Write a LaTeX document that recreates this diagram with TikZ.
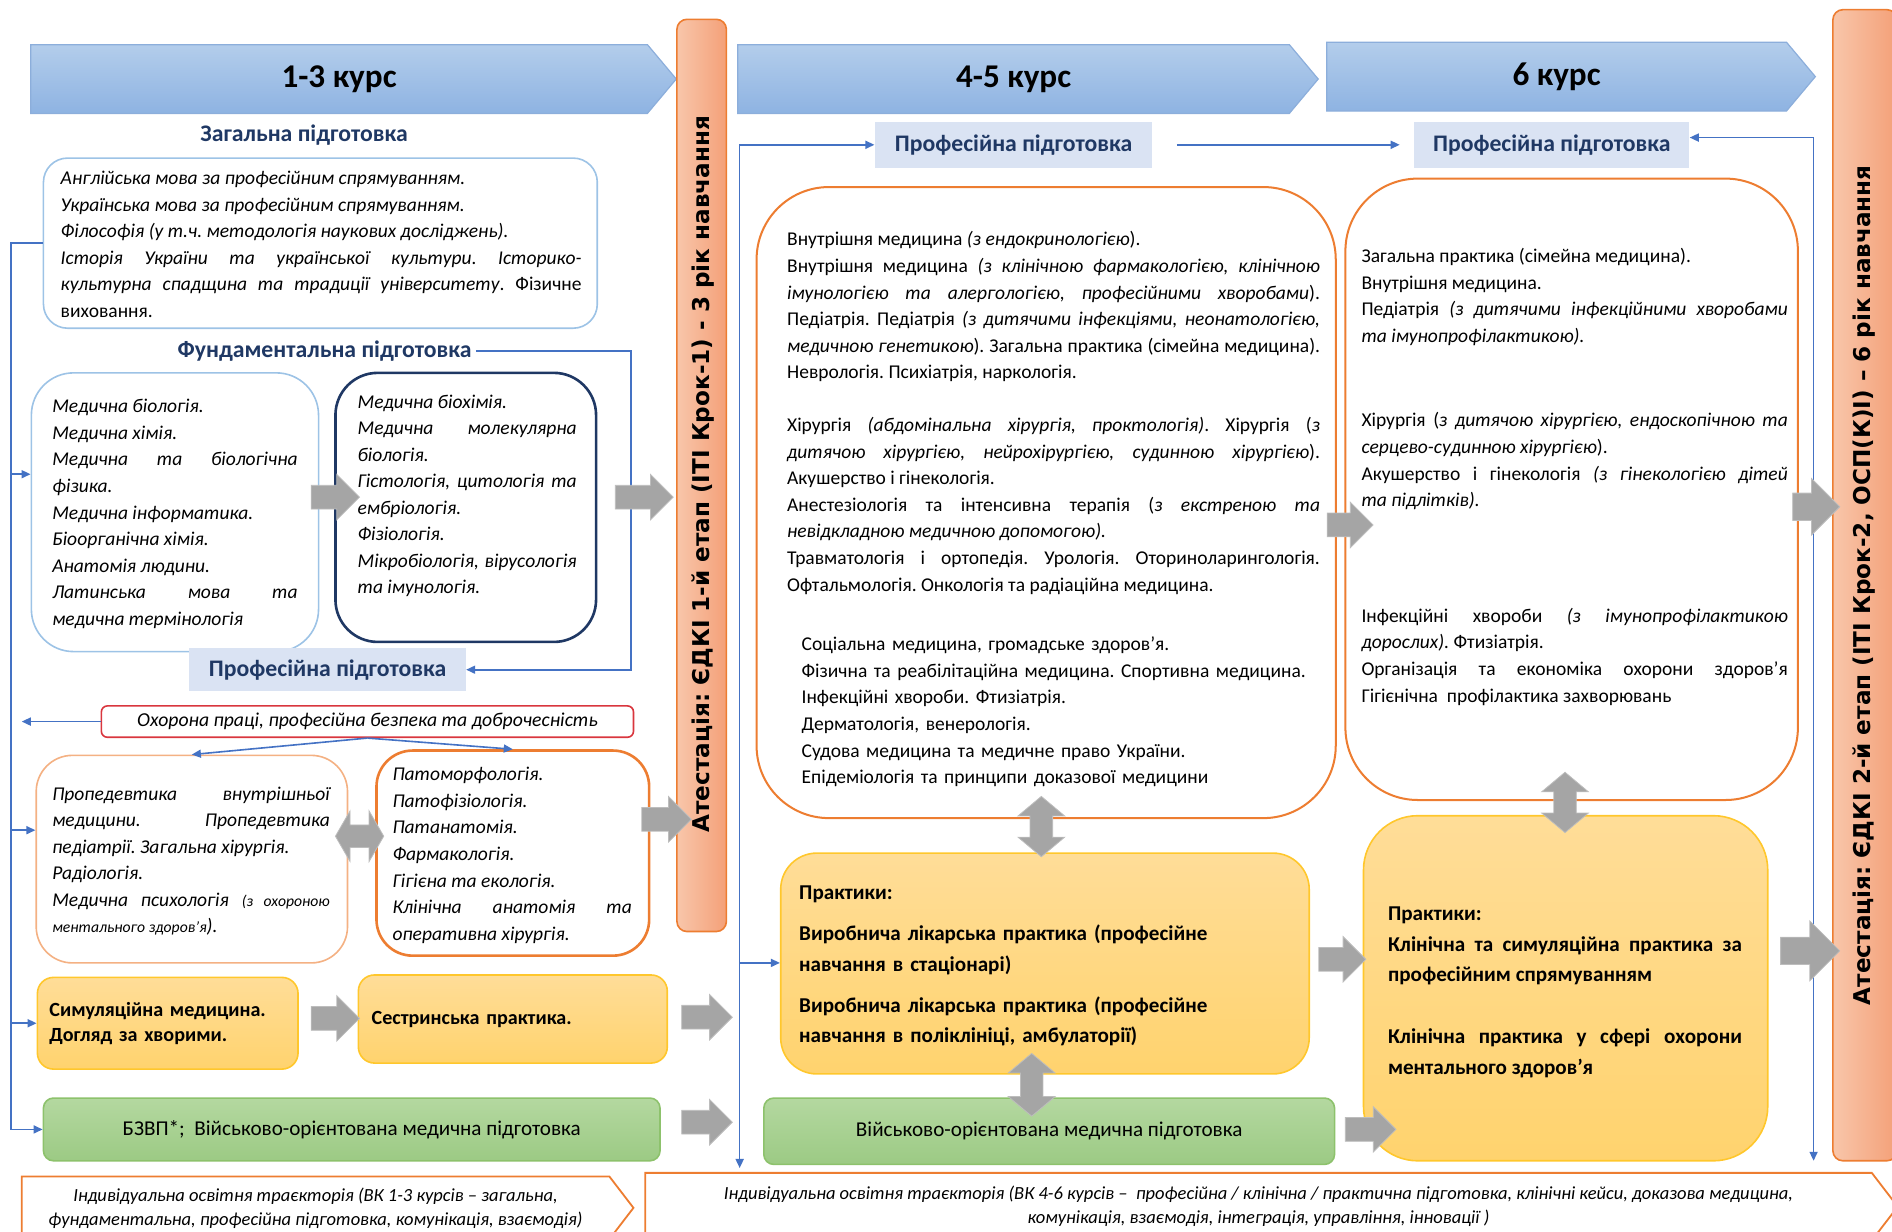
\documentclass[tikz,border=0pt]{standalone}
\usepackage{fontspec}
\setmainfont{Carlito}
\newfontfamily\barfont{DejaVu Sans}
\usetikzlibrary{shapes.arrows,shapes.symbols,arrows.meta}

\definecolor{hdtop}{HTML}{B3CDEB}
\definecolor{hdbot}{HTML}{8EB3E2}
\definecolor{hdline}{HTML}{8CAEDB}
\definecolor{bartop}{HTML}{F8C6AA}
\definecolor{barbot}{HTML}{F4A078}
\definecolor{orng}{HTML}{ED7D31}
\definecolor{lorng}{HTML}{F4B183}
\definecolor{lblue}{HTML}{9DC3E6}
\definecolor{navy}{HTML}{1F3864}
\definecolor{lblfill}{HTML}{DAE3F3}
\definecolor{blu}{HTML}{4472C4}
\definecolor{redln}{HTML}{D9363E}
\definecolor{yeltop}{HTML}{FFDD98}
\definecolor{yelbot}{HTML}{FFD36E}
\definecolor{yelline}{HTML}{FFC72C}
\definecolor{grntop}{HTML}{B4D8A0}
\definecolor{grnbot}{HTML}{9CCA84}
\definecolor{grnline}{HTML}{8DC26C}
\definecolor{gry}{HTML}{A5A5A5}
\definecolor{gryline}{HTML}{BDBDBD}

\setlength{\parindent}{0pt}
\frenchspacing
\hyphenpenalty=10000
\hbadness=10000

\begin{document}
\begin{tikzpicture}[x=0.6pt,y=-0.6pt,
  hdr/.style={signal,signal to=east,signal pointer angle=100,top color=hdtop,bottom color=hdbot,draw=hdline,line width=0.6pt,inner sep=0pt,font=\fontsize{16.5}{20}\selectfont\bfseries},
  bar/.style={rectangle,rounded corners=5pt,left color=bartop,right color=barbot,draw=orng,line width=0.8pt},
  bartext/.style={rotate=90,inner sep=0pt,font=\barfont\bfseries\fontsize{11.5}{13}\selectfont},
  box/.style={rectangle,fill=white,line width=0.8pt},
  hdg/.style={inner sep=2pt,text=navy,font=\fontsize{11.8}{14}\selectfont\bfseries},
  lbl/.style={rectangle,fill=lblfill,inner sep=0pt,text=navy,font=\fontsize{11.8}{14}\selectfont\bfseries},
  txt/.style={inner sep=0pt,anchor=north west,yshift=-2.2pt,align=justify,font=\fontsize{9.7}{13.2}\selectfont},
  itxt/.style={txt,font=\fontsize{9.7}{13.2}\selectfont\itshape},
  yel/.style={rectangle,top color=yeltop,bottom color=yelbot,draw=yelline,line width=0.8pt},
  grn/.style={rectangle,rounded corners=5pt,top color=grntop,bottom color=grnbot,draw=grnline,line width=0.8pt,font=\fontsize{10.5}{13}\selectfont},
  prtext/.style={inner sep=0pt,anchor=north west,yshift=-3pt,font=\fontsize{10.5}{15.3}\selectfont\bfseries},
  indiv/.style={signal,signal to=east,signal pointer angle=105,draw=orng,fill=white,line width=0.9pt,align=center,inner sep=0pt,font=\fontsize{9.2}{12}\selectfont\itshape},
  grar/.style={single arrow,fill=gry,draw=gryline,line width=0.4pt,inner xsep=0pt,inner ysep=5.7pt,single arrow head extend=5.4pt,minimum height=#1},
  dblar/.style={double arrow,fill=gry,draw=gryline,line width=0.4pt,inner xsep=0pt,inner ysep=5.4pt,double arrow head extend=6pt,double arrow tip angle=100,minimum height=#1},
  bline/.style={draw=blu,line width=0.8pt},
  arr/.style={-{Triangle[length=4.5pt,width=4pt]}},
  arrboth/.style={{Triangle[length=4.5pt,width=4pt]}-{Triangle[length=4.5pt,width=4pt]}}
]
\useasboundingbox (0,0) rectangle (1568,1021);
\clip (0,0) rectangle (1568,1021);

% course headers and attestation bars
\node[hdr,minimum width=321pt,minimum height=34.2pt] (c13) at (281,65.5) {1-3 курс};
\node[hdr,minimum width=288.6pt,minimum height=34.2pt] (c45) at (840,65.5) {4-5 курс};
\node[hdr,minimum width=243pt,minimum height=34.2pt] (c6) at (1290,63.5) {6 курс};
\node[bar,minimum width=24.6pt,minimum height=453.6pt] (att1) at (581.5,394) {};
\node[bartext] (att1t) at (583,393) {Атестація: ЄДКІ 1-й етап (ІТІ Крок-1) - 3 рік навчання};
\node[bar,minimum width=31.8pt,minimum height=572.4pt] (att2) at (1545.5,485) {};
\node[bartext] (att2t) at (1545,485) {Атестація: ЄДКІ 2-й етап (ІТІ Крок-2, ОСП(К)І) – 6 рік навчання};

% 1-3 course
\node[hdg] (zagh) at (252,112) {Загальна підготовка};
\node[box,draw=lblue,rounded corners=12pt,minimum width=275.4pt,minimum height=84.6pt] (zag) at (265.5,201.5) {};
\node[txt,text width=259pt] (zagt) at (50,138) {\textit{Англійська мова за професійним спрямуванням.}\par
\textit{Українська мова за професійним спрямуванням.}\par
\textit{Філософія (у т.ч. методологія наукових досліджень).}\par
\textit{Історія України та української культури. Історико-\linebreak культурна спадщина та традиції університету}. Фізичне\linebreak виховання.};
\node[hdg] (fundh) at (269,291) {Фундаментальна підготовка};
\node[box,draw=lblue,rounded corners=21pt,minimum width=142.8pt,minimum height=138.6pt] (fundl) at (145,424.5) {};
\node[itxt,text width=122pt] (fundlt) at (43,327) {Медична біологія.\par Медична хімія.\par Медична та біологічна\linebreak фізика.\par Медична інформатика.\par Біоорганічна хімія.\par Анатомія людини.\par Латинська мова та\linebreak медична термінологія};
\node[box,draw=navy,line width=1.3pt,rounded corners=21pt,minimum width=129.6pt,minimum height=133.8pt] (fundr) at (386,420.5) {};
\node[itxt,text width=109pt] (fundrt) at (296,323) {Медична біохімія.\par Медична молекулярна\linebreak біологія.\par Гістологія, цитологія та\linebreak ембріологія.\par Фізіологія.\par Мікробіологія, вірусологія\linebreak та імунологія.};
\node[lbl,minimum width=137.4pt,minimum height=21.6pt] (prof1) at (271.5,555) {Професійна підготовка};
\node[box,draw=redln,rounded corners=3pt,minimum width=264.6pt,minimum height=15.6pt,inner sep=0pt,font=\fontsize{9.8}{12}\selectfont\itshape] (red) at (304.5,598) {Охорона праці, професійна безпека та доброчесність};
\node[box,draw=lorng,rounded corners=18pt,minimum width=154.8pt,minimum height=103.2pt] (prop) at (159,712) {};
\node[itxt,text width=138pt] (propt) at (43,648) {Пропедевтика внутрішньої\linebreak медицини. Пропедевтика\linebreak педіатрії. Загальна хірургія.\par Радіологія.\par Медична психологія {\fontsize{7.8}{13.2}\selectfont (з охороною\linebreak ментального здоров’я}).};
\node[box,draw=orng,line width=1.3pt,rounded corners=18pt,minimum width=135.6pt,minimum height=102pt] (pato) at (425,707) {};
\node[itxt,text width=119pt] (patot) at (325,632) {Патоморфологія.\par Патофізіологія.\par Патанатомія.\par Фармакологія.\par Гігієна та екологія.\par Клінічна анатомія та\linebreak оперативна хірургія.};
\node[yel,rounded corners=8pt,minimum width=129.6pt,minimum height=45.6pt,text width=117.6pt,align=left,font=\fontsize{10}{12.6}\selectfont\bfseries] (sim) at (139,848) {Симуляційна медицина.\\ Догляд за хворими.};
\node[yel,rounded corners=8pt,minimum width=153.6pt,minimum height=43.8pt,text width=140.4pt,align=left,font=\fontsize{10}{12.6}\selectfont\bfseries] (sest) at (425,844.5) {Сестринська практика.};
\node[grn,minimum width=306.6pt,minimum height=31.2pt] (bzvp) at (291.5,936) {БЗВП*;\ \ Військово-орієнтована медична підготовка};
\node[indiv,minimum width=304.2pt,minimum height=31.2pt] (ind1) at (261.5,1001) {Індивідуальна освітня траєкторія (ВК 1-3 курсів – загальна,\\ фундаментальна, професійна підготовка, комунікація, взаємодія)};

% 4-5 course
\node[lbl,minimum width=138pt,minimum height=22.8pt] (prof2) at (840,120) {Професійна підготовка};
\node[box,draw=orng,line width=1pt,rounded corners=36pt,minimum width=288pt,minimum height=313.8pt] (big45) at (867,416.5) {};
\node[txt,text width=265pt] (t45a) at (652,188) {Внутрішня медицина \textit{(з ендокринологією}).\par
Внутрішня медицина \textit{(з клінічною фармакологією, клінічною\linebreak імунологією та алергологією, професійними хворобами}).\linebreak
Педіатрія. Педіатрія \textit{(з дитячими інфекціями, неонатологією,\linebreak медичною генетикою}). Загальна практика (сімейна медицина).\linebreak
Неврологія. Психіатрія, наркологія.};
\node[txt,text width=265pt] (t45b) at (652,342) {Хірургія \textit{(абдомінальна хірургія, проктологія)}. Хірургія (\textit{з\linebreak дитячою хірургією, нейрохірургією, судинною хірургією}).\linebreak
Акушерство і гінекологія.\par
Анестезіологія та інтенсивна терапія (\textit{з екстреною та\linebreak невідкладною медичною допомогою).}\par
Травматологія і ортопедія. Урологія. Оториноларингологія.\linebreak
Офтальмологія. Онкологія та радіаційна медицина.};
\node[txt,text width=255pt,align=left] (t45c) at (664,524) {Соціальна медицина, громадське здоров’я.\\
Фізична та реабілітаційна медицина. Спортивна медицина.\\
Інфекційні хвороби. Фтизіатрія.\\
Дерматологія, венерологія.\\
Судова медицина та медичне право України.\\
Епідеміологія та принципи доказової медицини};
\node[yel,rounded corners=18pt,minimum width=262.8pt,minimum height=109.8pt] (pr45) at (866,798.5) {};
\node[prtext,text width=250pt,align=left] (pr45t) at (662,729) {Практики:\\[5pt]
Виробнича лікарська практика (професійне\\ навчання в стаціонарі)\\[5pt]
Виробнича лікарська практика (професійне\\ навчання в поліклініці, амбулаторії)};
\node[grn,minimum width=283.8pt,minimum height=33pt] (vomp) at (869.5,937.5) {Військово-орієнтована медична підготовка};
\node[indiv,minimum width=622.8pt,minimum height=33.6pt] (ind2) at (1043,1000) {Індивідуальна освітня траєкторія (ВК 4-6 курсів –\ \ професійна / клінічна / практична підготовка, клінічні кейси, доказова медицина,\\ комунікація, взаємодія, інтеграція, управління, інновації )};

% 6 course
\node[lbl,minimum width=136.8pt,minimum height=22.8pt] (prof3) at (1286,120) {Професійна підготовка};
\node[box,draw=orng,line width=1pt,rounded corners=36pt,minimum width=225pt,minimum height=309pt] (big6) at (1302.5,405.5) {};
\node[txt,text width=212pt] (t6a) at (1128,202) {Загальна практика (сімейна медицина).\par
Внутрішня медицина.\par
Педіатрія \textit{(з дитячими інфекційними хворобами\linebreak та імунопрофілактикою).}};
\node[txt,text width=212pt] (t6b) at (1128,338) {Хірургія (\textit{з дитячою хірургією, ендоскопічною та\linebreak серцево-судинною хірургією}).\par
Акушерство і гінекологія \textit{(з гінекологією дітей\linebreak та підлітків).}};
\node[txt,text width=212pt] (t6c) at (1128,500) {Інфекційні хвороби \textit{(з імунопрофілактикою\linebreak дорослих).} Фтизіатрія.\par
Організація та економіка охорони здоров’я\linebreak
Гігієнічна\ \ профілактика захворювань};
\node[yel,rounded corners=27pt,minimum width=201pt,minimum height=171.6pt] (pr6) at (1297.5,819) {};
\node[prtext,text width=176pt,align=justify] (pr6t) at (1150,746) {Практики:\par
Клінічна та симуляційна практика за\linebreak професійним спрямуванням\par\vspace{15.3pt}
Клінічна практика у сфері охорони\linebreak ментального здоров’я};

% blue connectors
\coordinate (lbus) at (9,201.5);
\draw[bline,arr] (zag.west) -- (lbus) |- (bzvp.west);
\draw[bline,arr] (lbus |- 0,393) -- (fundl.west |- 0,393);
\draw[bline,arr] (lbus |- 0,688) -- (prop.west |- 0,688);
\draw[bline,arr] (lbus |- sim.west) -- (sim.west);
\coordinate (fcorner) at (523,291);
\draw[bline,arr] (fundh.east) -- (fcorner) |- (prof1.east);
\coordinate (redend) at (18,598);
\draw[bline,arr] (red.west) -- (redend);
\draw[bline,arr] (red.south) -- (prop.north);
\draw[bline,arr] (red.south) -- (pato.north);
\coordinate (mbus) at (613,120);
\coordinate (mbot) at (613,968);
\draw[bline,arrboth] (mbot) -- (mbus) -- (prof2.west);
\draw[bline,arr] (mbus |- 0,798) -- (pr45.west |- 0,798);
\draw[bline,arr] ([xshift=12pt]prof2.east) -- ([xshift=-7pt]prof3.west);
\coordinate (rbus) at (1503,114);
\coordinate (rbot) at (1503,962);
\draw[bline,arrboth] (rbot) -- (rbus) -- (prof3.east |- rbus);

% grey block arrows
\node[grar=24pt] (g1) at (273,412) {};
\node[grar=28.8pt] (g2) at (529,412) {};
\node[dblar=24pt,inner ysep=5.4pt,double arrow head extend=7pt,double arrow tip angle=120] (g3) at (298,693) {};
\node[grar=24.6pt] (g4) at (547.5,679) {};
\node[grar=24pt] (g5) at (273,844) {};
\node[grar=25.2pt] (g6) at (581,843) {};
\node[grar=25.2pt] (g7) at (581,930) {};
\node[dblar=30pt,rotate=90] (g8) at (863,685) {};
\node[dblar=31.2pt,rotate=90] (g9) at (855,899) {};
\node[grar=22.8pt] (g10) at (1114,435) {};
\node[grar=23.4pt] (g11) at (1107.5,795) {};
\node[grar=25.2pt] (g12) at (1131,936) {};
\node[dblar=30pt,rotate=90] (g13) at (1297,665) {};
\node[grar=23.4pt,inner ysep=6.6pt,single arrow head extend=7.2pt] (g14) at (1499.5,420) {};
\node[grar=29.4pt,inner ysep=6.6pt,single arrow head extend=8.1pt] (g15) at (1494.5,788) {};
\end{tikzpicture}
\end{document}
